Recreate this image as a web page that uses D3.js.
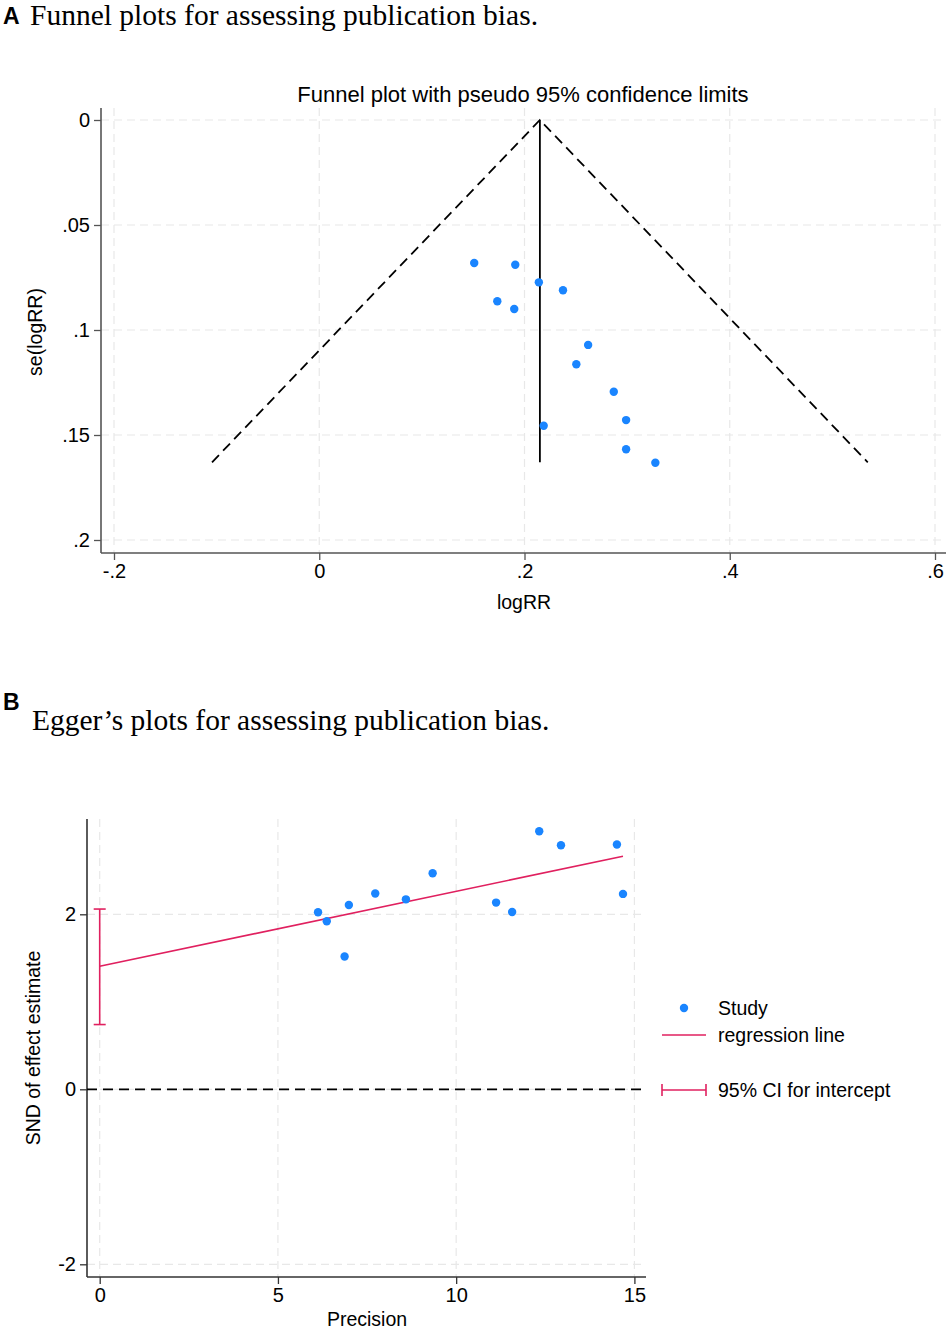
<!DOCTYPE html>
<html>
<head>
<meta charset="utf-8">
<script src="https://cdn.jsdelivr.net/npm/d3@7"></script>
<style>
  body { margin: 0; background: #fff; }
  svg text { font-family: "Liberation Sans", Arial, Helvetica, sans-serif; fill: #000; }
  .serif { font-family: "Liberation Serif", "Times New Roman", serif; }
  .grid line { stroke: #e8e8e8; stroke-dasharray: 8,5; stroke-width: 1.2; }
</style>
</head>
<body>
<div id="chart"></div>
<script>
// ---- panel A: funnel plot data (logRR vs se(logRR)) ----
const logRR = [0.151, 0.191, 0.214, 0.2375, 0.1735, 0.190, 0.262, 0.2505, 0.287, 0.299, 0.2187, 0.299, 0.3275];
const seLogRR = [0.0681, 0.0689, 0.0773, 0.0811, 0.0863, 0.0900, 0.1071, 0.1163, 0.1294, 0.1429, 0.1456, 0.1568, 0.1632];
const pooledEffect = 0.215;
const funnelMaxSe = 0.163;
const funnelXTicks = [-0.2, 0, 0.2, 0.4, 0.6];
const funnelXLabels = ["-.2", "0", ".2", ".4", ".6"];
const funnelYTicks = [0, 0.05, 0.1, 0.15, 0.2];
const funnelYLabels = ["0", ".05", ".1", ".15", ".2"];

// ---- panel B: Egger's plot data (precision vs SND) ----
const precision = [6.125, 6.37, 6.99, 6.87, 7.73, 8.59, 9.34, 11.12, 11.57, 12.33, 12.94, 14.51, 14.68];
const snd = [2.023, 1.92, 2.107, 1.517, 2.237, 2.171, 2.469, 2.134, 2.027, 2.949, 2.789, 2.797, 2.233];
const eggerIntercept = 1.406;
const eggerSlope = 0.0857;
const interceptCI = [0.74, 2.06];
const eggerXTicks = [0, 5, 10, 15];
const eggerYTicks = [-2, 0, 2];
const eggerYLabels = ["-2", "0", "2"];
const legendLabels = ["Study", "regression line", "95% CI for intercept"];

const blue = "#1a85ff";
const red = "#e0205f";
const fs = 19.5;

const svg = d3.select("#chart").append("svg")
    .attr("width", 948)
    .attr("height", 1333);

svg.append("rect").attr("width", 948).attr("height", 1333).attr("fill", "#fff");

// headings
function heading(letter, text, lx, ly, tx, ty) {
    svg.append("text").attr("x", lx).attr("y", ly)
        .attr("font-size", 23).attr("font-weight", "bold").text(letter);
    svg.append("text").attr("class", "serif").attr("x", tx).attr("y", ty)
        .attr("font-size", 29.5).text(text);
}
heading("A", "Funnel plots for assessing publication bias.", 3, 24, 30, 25);
heading("B", "Egger\u2019s plots for assessing publication bias.", 3, 710, 32, 730);

function styleAxis(ax, col) {
    ax.select(".domain").remove();
    ax.selectAll(".tick line").attr("stroke", col).attr("stroke-width", 1.3);
    ax.selectAll(".tick text").attr("font-size", 20).attr("fill", "#000")
        .attr("font-family", "Liberation Sans, Arial, sans-serif");
}

/* ================= Panel A ================= */
const xA = d3.scaleLinear().domain([-0.2, 0.6]).range([114, 935]);
const yA = d3.scaleLinear().domain([0, 0.2]).range([120, 540]);
const A = { left: 101, right: 946, top: 108, bottom: 553 };

const gA = svg.append("g");

// grid
gA.append("g").attr("class", "grid").selectAll("line")
    .data(funnelXTicks).join("line")
    .attr("x1", d => xA(d)).attr("x2", d => xA(d))
    .attr("y1", A.top).attr("y2", A.bottom);
gA.append("g").attr("class", "grid").selectAll("line")
    .data(funnelYTicks).join("line")
    .attr("x1", A.left).attr("x2", A.right)
    .attr("y1", d => yA(d)).attr("y2", d => yA(d));

// axes
const axA_x = gA.append("g").attr("transform", `translate(0,${A.bottom})`)
    .call(d3.axisBottom(xA).tickValues(funnelXTicks)
        .tickFormat((d, i) => funnelXLabels[i]).tickSize(7).tickSizeOuter(0).tickPadding(4));
const axA_y = gA.append("g").attr("transform", `translate(${A.left},0)`)
    .call(d3.axisLeft(yA).tickValues(funnelYTicks)
        .tickFormat((d, i) => funnelYLabels[i]).tickSize(7).tickSizeOuter(0).tickPadding(4));
styleAxis(axA_x, "#555");
styleAxis(axA_y, "#555");
gA.append("line").attr("x1", A.left).attr("x2", A.right).attr("y1", A.bottom).attr("y2", A.bottom)
    .attr("stroke", "#555").attr("stroke-width", 1.6);
gA.append("line").attr("x1", A.left).attr("x2", A.left).attr("y1", A.top).attr("y2", A.bottom)
    .attr("stroke", "#555").attr("stroke-width", 1.6);

// funnel limits
const funnelPts = [
    [pooledEffect - 1.96 * funnelMaxSe, funnelMaxSe],
    [pooledEffect, 0],
    [pooledEffect + 1.96 * funnelMaxSe, funnelMaxSe]
];
gA.append("path")
    .attr("d", d3.line().x(d => xA(d[0])).y(d => yA(d[1]))(funnelPts))
    .attr("fill", "none").attr("stroke", "#000").attr("stroke-width", 1.8)
    .attr("stroke-dasharray", "10,6");
gA.append("line")
    .attr("x1", xA(pooledEffect)).attr("x2", xA(pooledEffect))
    .attr("y1", yA(0)).attr("y2", yA(funnelMaxSe))
    .attr("stroke", "#000").attr("stroke-width", 1.8);

gA.selectAll("circle").data(logRR).join("circle")
    .attr("cx", d => xA(d)).attr("cy", (d, i) => yA(seLogRR[i]))
    .attr("r", 4.2).attr("fill", blue);

gA.append("text").attr("x", 523).attr("y", 102).attr("text-anchor", "middle")
    .attr("font-size", 22).text("Funnel plot with pseudo 95% confidence limits");
gA.append("text").attr("x", 524).attr("y", 609).attr("text-anchor", "middle")
    .attr("font-size", fs).text("logRR");
gA.append("text").attr("transform", "translate(42,332) rotate(-90)")
    .attr("text-anchor", "middle").attr("font-size", fs).text("se(logRR)");

/* ================= Panel B ================= */
const xB = d3.scaleLinear().domain([0, 15]).range([99.7, 634.4]);
const yB = d3.scaleLinear().domain([-2, 2]).range([1264.3, 914.3]);
const B = { left: 87, right: 646, top: 819, bottom: 1277 };

const gB = svg.append("g");

gB.append("g").attr("class", "grid").selectAll("line")
    .data(eggerXTicks).join("line")
    .attr("x1", d => xB(d)).attr("x2", d => xB(d))
    .attr("y1", B.top).attr("y2", B.bottom);
gB.append("g").attr("class", "grid").selectAll("line")
    .data(eggerYTicks).join("line")
    .attr("x1", B.left).attr("x2", B.right)
    .attr("y1", d => yB(d)).attr("y2", d => yB(d));

const axB_x = gB.append("g").attr("transform", `translate(0,${B.bottom})`)
    .call(d3.axisBottom(xB).tickValues(eggerXTicks).tickFormat(d => String(d))
        .tickSize(7).tickSizeOuter(0).tickPadding(4));
const axB_y = gB.append("g").attr("transform", `translate(${B.left},0)`)
    .call(d3.axisLeft(yB).tickValues(eggerYTicks).tickFormat((d, i) => eggerYLabels[i])
        .tickSize(7).tickSizeOuter(0).tickPadding(4));
styleAxis(axB_x, "#333");
styleAxis(axB_y, "#333");
gB.append("line").attr("x1", B.left).attr("x2", B.right).attr("y1", B.bottom).attr("y2", B.bottom)
    .attr("stroke", "#333").attr("stroke-width", 1.6);
gB.append("line").attr("x1", B.left).attr("x2", B.left).attr("y1", B.top).attr("y2", B.bottom)
    .attr("stroke", "#333").attr("stroke-width", 1.6);

// zero reference
gB.append("line").attr("x1", B.left).attr("x2", B.right)
    .attr("y1", yB(0)).attr("y2", yB(0))
    .attr("stroke", "#000").attr("stroke-width", 1.8).attr("stroke-dasharray", "10,6");

// intercept CI
const ciG = gB.append("g").attr("stroke", red).attr("stroke-width", 1.6);
ciG.append("line").attr("x1", xB(0)).attr("x2", xB(0))
    .attr("y1", yB(interceptCI[0])).attr("y2", yB(interceptCI[1]));
interceptCI.forEach(v => ciG.append("line")
    .attr("x1", xB(0) - 6).attr("x2", xB(0) + 6)
    .attr("y1", yB(v)).attr("y2", yB(v)));

// regression line
const maxPrec = d3.max(precision);
gB.append("line")
    .attr("x1", xB(0)).attr("y1", yB(eggerIntercept))
    .attr("x2", xB(maxPrec)).attr("y2", yB(eggerIntercept + eggerSlope * maxPrec))
    .attr("stroke", red).attr("stroke-width", 1.6);

gB.selectAll("circle").data(precision).join("circle")
    .attr("cx", d => xB(d)).attr("cy", (d, i) => yB(snd[i]))
    .attr("r", 4.2).attr("fill", blue);

gB.append("text").attr("x", 367).attr("y", 1326).attr("text-anchor", "middle")
    .attr("font-size", fs).text("Precision");
gB.append("text").attr("transform", "translate(40,1048) rotate(-90)")
    .attr("text-anchor", "middle").attr("font-size", fs).text("SND of effect estimate");

// legend
const leg = gB.append("g");
const legY = [1008, 1035, 1090];
leg.append("circle").attr("cx", 684).attr("cy", legY[0]).attr("r", 4.2).attr("fill", blue);
leg.append("line").attr("x1", 662).attr("x2", 706).attr("y1", legY[1]).attr("y2", legY[1])
    .attr("stroke", red).attr("stroke-width", 1.6);
const lc = leg.append("g").attr("stroke", red).attr("stroke-width", 1.6);
lc.append("line").attr("x1", 662).attr("x2", 706).attr("y1", legY[2]).attr("y2", legY[2]);
[662, 706].forEach(x => lc.append("line").attr("x1", x).attr("x2", x)
    .attr("y1", legY[2] - 6).attr("y2", legY[2] + 6));
leg.selectAll("text.lbl").data(legendLabels).join("text").attr("class", "lbl")
    .attr("x", 718).attr("y", (d, i) => legY[i] + 7)
    .attr("font-size", fs).text(d => d);
</script>
</body>
</html>
